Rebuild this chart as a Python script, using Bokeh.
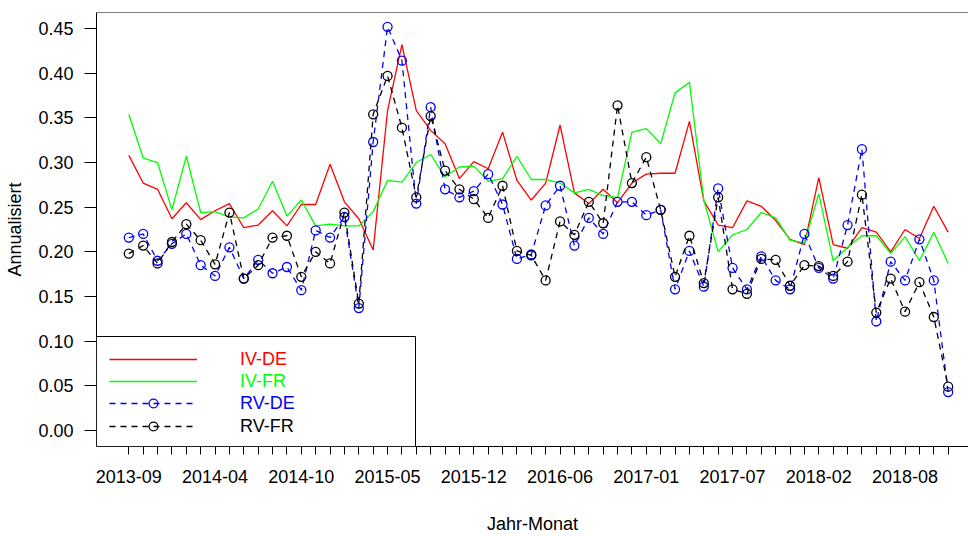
from bokeh.plotting import figure
from bokeh.models import (Legend, LegendItem, FixedTicker, NumeralTickFormatter,
                          BoxAnnotation, Span, Range1d)
from bokeh.embed import file_html
from bokeh.resources import INLINE

# ---- data ----
iv_de = [0.308, 0.277, 0.270, 0.237, 0.255, 0.236, 0.246, 0.254, 0.227, 0.230,
         0.246, 0.229, 0.253, 0.253, 0.298, 0.256, 0.237, 0.202, 0.358, 0.432,
         0.358, 0.336, 0.321, 0.282, 0.301, 0.293, 0.334, 0.280, 0.258, 0.277,
         0.342, 0.266, 0.254, 0.270, 0.255, 0.277, 0.287, 0.288, 0.288, 0.346,
         0.257, 0.230, 0.227, 0.257, 0.251, 0.235, 0.214, 0.208, 0.283, 0.208,
         0.204, 0.227, 0.222, 0.200, 0.225, 0.215, 0.251, 0.222]
iv_fr = [0.354, 0.305, 0.300, 0.247, 0.307, 0.244, 0.245, 0.239, 0.238, 0.248,
         0.279, 0.240, 0.258, 0.229, 0.231, 0.229, 0.229, 0.245, 0.280, 0.278,
         0.300, 0.309, 0.284, 0.295, 0.296, 0.279, 0.282, 0.307, 0.281, 0.281,
         0.277, 0.266, 0.270, 0.263, 0.261, 0.334, 0.338, 0.321, 0.378, 0.390,
         0.258, 0.200, 0.219, 0.225, 0.244, 0.238, 0.213, 0.210, 0.265, 0.190,
         0.205, 0.218, 0.218, 0.198, 0.217, 0.190, 0.222, 0.187]
rv_de = [0.216, 0.220, 0.190, 0.209, 0.220, 0.185, 0.173, 0.205, 0.170, 0.191,
         0.176, 0.183, 0.157, 0.224, 0.216, 0.239, 0.137, 0.323, 0.452, 0.414,
         0.254, 0.362, 0.270, 0.261, 0.268, 0.287, 0.253, 0.192, 0.197, 0.252,
         0.274, 0.207, 0.238, 0.220, 0.256, 0.256, 0.241, 0.247, 0.158, 0.201,
         0.161, 0.271, 0.182, 0.158, 0.195, 0.168, 0.158, 0.220, 0.182, 0.170,
         0.230, 0.315, 0.122, 0.189, 0.168, 0.214, 0.168, 0.043]
rv_fr = [0.198, 0.207, 0.187, 0.211, 0.231, 0.213, 0.186, 0.244, 0.170, 0.185,
         0.216, 0.218, 0.172, 0.200, 0.187, 0.244, 0.142, 0.354, 0.397, 0.339,
         0.261, 0.352, 0.291, 0.270, 0.259, 0.238, 0.274, 0.201, 0.196, 0.168,
         0.234, 0.219, 0.256, 0.232, 0.364, 0.277, 0.306, 0.247, 0.172, 0.218,
         0.165, 0.261, 0.158, 0.153, 0.192, 0.191, 0.162, 0.185, 0.184, 0.173,
         0.189, 0.264, 0.132, 0.170, 0.133, 0.166, 0.127, 0.049]

tick_pos = [0, 6, 12, 18, 24, 30, 36, 42, 48, 54]
tick_labels = ["2013-09", "2014-04", "2014-10", "2015-05", "2015-12",
               "2016-06", "2017-01", "2017-07", "2018-02", "2018-08"]
y_ticks = [0.0, 0.05, 0.10, 0.15, 0.20, 0.25, 0.30, 0.35, 0.40, 0.45]
series_names = ["IV-DE", "IV-FR", "RV-DE", "RV-FR"]

idx = list(range(len(iv_de)))
FONT = "Liberation Sans"

p = figure(width=968, height=536,
           x_range=Range1d(-2.247, 58.414), y_range=Range1d(-0.018, 0.468),
           output_backend="svg", toolbar_location=None,
           min_border_left=96, min_border_right=0, min_border_top=12,
           min_border_bottom=89)
p.outline_line_color = None
p.xgrid.visible = False
p.ygrid.visible = False
p.background_fill_color = "white"
p.border_fill_color = "white"

# series
r_red = p.line(idx, iv_de, line_color="#ff0000", line_width=1.3)
r_green = p.line(idx, iv_fr, line_color="#00ff00", line_width=1.3)
r_blue_l = p.line(idx, rv_de, line_color="#0000ff", line_width=1.3, line_dash="6 5")
r_blue_m = p.scatter(idx, rv_de, marker="circle", size=9, fill_alpha=0,
                     line_color="#0000ff", line_width=1.3)
r_black_l = p.line(idx, rv_fr, line_color="#000000", line_width=1.3, line_dash="6 5")
r_black_m = p.scatter(idx, rv_fr, marker="circle", size=9, fill_alpha=0,
                      line_color="#000000", line_width=1.3)

# axes
xa = p.xaxis[0]
xa.ticker = FixedTicker(ticks=idx, minor_ticks=[])
xa.major_label_overrides = {i: (tick_labels[tick_pos.index(i)] if i in tick_pos else "")
                            for i in idx}
xa.major_tick_out = 8
xa.major_tick_in = 0
xa.minor_tick_out = 0
xa.minor_tick_in = 0
xa.major_label_standoff = 15
xa.major_label_text_font = FONT
xa.major_label_text_font_size = "18px"
xa.major_label_text_color = "#000000"
xa.axis_label = "Jahr-Monat"
xa.axis_label_text_font = FONT
xa.axis_label_text_font_size = "18px"
xa.axis_label_text_font_style = "normal"
xa.axis_label_text_color = "#000000"
xa.axis_label_standoff = 28
xa.axis_line_color = "#000000"
xa.major_tick_line_color = "#000000"

ya = p.yaxis[0]
ya.ticker = FixedTicker(ticks=y_ticks, minor_ticks=[])
ya.formatter = NumeralTickFormatter(format="0.00")
ya.major_tick_out = 12
ya.major_tick_in = 0
ya.minor_tick_out = 0
ya.minor_tick_in = 0
ya.major_label_standoff = 11
ya.major_label_text_font = FONT
ya.major_label_text_font_size = "18px"
ya.major_label_text_color = "#000000"
ya.axis_label = "Annualisiert"
ya.axis_label_text_font = FONT
ya.axis_label_text_font_size = "18px"
ya.axis_label_text_font_style = "normal"
ya.axis_label_text_color = "#000000"
ya.axis_label_standoff = 10
ya.axis_line_color = "#000000"
ya.major_tick_line_color = "#000000"

# top edge of the box
p.add_layout(Span(location=0.468, dimension="width", line_color="#000000", line_width=1))

# legend box (screen units, relative to the plot frame)
p.add_layout(BoxAnnotation(left=0, right=319, bottom=0, top=110,
                           left_units="screen", right_units="screen",
                           top_units="screen", bottom_units="screen",
                           fill_color="white", fill_alpha=1.0,
                           line_color="#000000", line_width=1, line_alpha=1.0))

legend_specs = [
    (series_names[0], [r_red], "#ff0000", 76),
    (series_names[1], [r_green], "#00ff00", 54),
    (series_names[2], [r_blue_l, r_blue_m], "#0000ff", 32),
    (series_names[3], [r_black_l, r_black_m], "#000000", 9),
]
for name, rends, col, yoff in legend_specs:
    lg = Legend(items=[LegendItem(label=name, renderers=rends)],
                location=(13, yoff), orientation="vertical",
                glyph_width=88, glyph_height=22, label_height=22,
                label_standoff=43, label_text_color=col,
                label_text_font=FONT, label_text_font_size="18px",
                border_line_color=None, background_fill_alpha=0,
                padding=0, margin=0, spacing=0)
    p.add_layout(lg)

open("out.html", "w").write(file_html(p, INLINE))
